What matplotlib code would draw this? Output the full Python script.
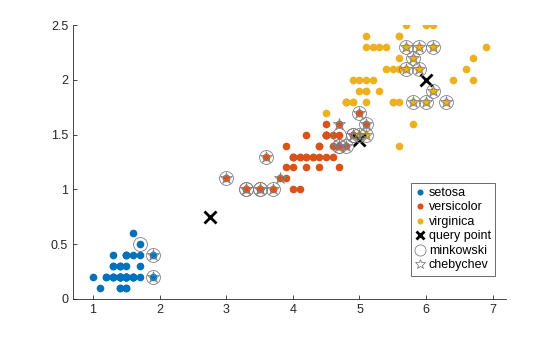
import numpy as np
import matplotlib.pyplot as plt

plt.rcParams['font.family'] = ['Liberation Sans', 'DejaVu Sans']

# Fisher iris: petal length / petal width per species
setosa_len = [1.4, 1.4, 1.3, 1.5, 1.4, 1.7, 1.4, 1.5, 1.4, 1.5, 1.5, 1.6, 1.4, 1.1, 1.2,
              1.5, 1.3, 1.4, 1.7, 1.5, 1.7, 1.5, 1.0, 1.7, 1.9, 1.6, 1.6, 1.5, 1.4, 1.6,
              1.6, 1.5, 1.5, 1.4, 1.5, 1.2, 1.3, 1.4, 1.3, 1.5, 1.3, 1.3, 1.3, 1.6, 1.9,
              1.4, 1.6, 1.4, 1.5, 1.4]
setosa_wid = [0.2, 0.2, 0.2, 0.2, 0.2, 0.4, 0.3, 0.2, 0.2, 0.1, 0.2, 0.2, 0.1, 0.1, 0.2,
              0.4, 0.4, 0.3, 0.3, 0.3, 0.2, 0.4, 0.2, 0.5, 0.2, 0.2, 0.4, 0.2, 0.2, 0.2,
              0.2, 0.4, 0.1, 0.2, 0.2, 0.2, 0.2, 0.1, 0.2, 0.2, 0.3, 0.3, 0.2, 0.6, 0.4,
              0.3, 0.2, 0.2, 0.2, 0.2]
versicolor_len = [4.7, 4.5, 4.9, 4.0, 4.6, 4.5, 4.7, 3.3, 4.6, 3.9, 3.5, 4.2, 4.0, 4.7, 3.6,
                  4.4, 4.5, 4.1, 4.5, 3.9, 4.8, 4.0, 4.9, 4.7, 4.3, 4.4, 4.8, 5.0, 4.5, 3.5,
                  3.8, 3.7, 3.9, 5.1, 4.5, 4.5, 4.7, 4.4, 4.1, 4.0, 4.4, 4.6, 4.0, 3.3, 4.2,
                  4.2, 4.2, 4.3, 3.0, 4.1]
versicolor_wid = [1.4, 1.5, 1.5, 1.3, 1.5, 1.3, 1.6, 1.0, 1.3, 1.4, 1.0, 1.5, 1.0, 1.4, 1.3,
                  1.4, 1.5, 1.0, 1.5, 1.1, 1.8, 1.3, 1.5, 1.2, 1.3, 1.4, 1.4, 1.7, 1.5, 1.0,
                  1.1, 1.0, 1.2, 1.6, 1.5, 1.6, 1.5, 1.3, 1.3, 1.3, 1.2, 1.4, 1.2, 1.0, 1.3,
                  1.2, 1.3, 1.3, 1.1, 1.3]
virginica_len = [6.0, 5.1, 5.9, 5.6, 5.8, 6.6, 4.5, 6.3, 5.8, 6.1, 5.1, 5.3, 5.5, 5.0, 5.1,
                 5.3, 5.5, 6.7, 6.9, 5.0, 5.7, 4.9, 6.7, 4.9, 5.7, 6.0, 4.8, 4.9, 5.6, 5.8,
                 6.1, 6.4, 5.6, 5.1, 5.6, 6.1, 5.6, 5.5, 4.8, 5.4, 5.6, 5.1, 5.1, 5.9, 5.7,
                 5.2, 5.0, 5.2, 5.4, 5.1]
virginica_wid = [2.5, 1.9, 2.1, 1.8, 2.2, 2.1, 1.7, 1.8, 1.8, 2.5, 2.0, 1.9, 2.1, 2.0, 2.4,
                 2.3, 1.8, 2.2, 2.3, 1.5, 2.3, 2.0, 2.0, 1.8, 2.1, 1.8, 1.8, 1.8, 2.1, 1.6,
                 1.9, 2.0, 2.2, 1.5, 1.4, 2.3, 2.4, 1.8, 1.8, 2.1, 2.4, 2.3, 1.9, 2.3, 2.5,
                 2.3, 1.9, 2.0, 2.3, 1.8]

species = ['setosa', 'versicolor', 'virginica']
colors = ['#0072BD', '#D95319', '#EDB120']

query_len = [5.0, 6.0, 2.75]
query_wid = [1.45, 2.0, 0.75]
k = 10

x = np.column_stack([setosa_len + versicolor_len + virginica_len,
                     setosa_wid + versicolor_wid + virginica_wid])
q = np.column_stack([query_len, query_wid])


def knn(dist):
    idx = []
    for p in q:
        d = dist(np.abs(x - p))
        idx.extend(np.argsort(d, kind='stable')[:k])
    return np.array(idx)


idx_mk = knn(lambda a: (a ** 5).sum(axis=1) ** 0.2)
idx_cb = knn(lambda a: a.max(axis=1))

fig = plt.figure(figsize=(5.6, 3.37), dpi=100)
ax = fig.add_axes([0.1304, 0.1128, 0.7732, 0.8130])

groups = [(setosa_len, setosa_wid), (versicolor_len, versicolor_wid),
          (virginica_len, virginica_wid)]
for (gx, gy), name, c in zip(groups, species, colors):
    ax.plot(gx, gy, 'o', ms=5.5, color=c, mec='none', label=name, ls='none')

ax.plot(query_len, query_wid, 'x', color='k', ms=8, mew=2, ls='none',
        label='query point')
ax.plot(x[idx_mk, 0], x[idx_mk, 1], 'o', ms=10, mfc='none', mec='#808080',
        mew=0.6, ls='none', label='minkowski')
ax.plot(x[idx_cb, 0], x[idx_cb, 1], '*', ms=9, mfc='none', mec='#808080',
        mew=0.6, ls='none', label='chebychev')

ax.set_xlim(0.7, 7.2)
ax.set_ylim(0, 2.5)
ax.set_xticks(range(1, 8))
ax.set_yticks([0, 0.5, 1, 1.5, 2, 2.5])
ax.set_yticklabels(['0', '0.5', '1', '1.5', '2', '2.5'])
for s in ['top', 'right']:
    ax.spines[s].set_visible(False)
for s in ['left', 'bottom']:
    ax.spines[s].set_color('#262626')
    ax.spines[s].set_linewidth(0.6)
ax.tick_params(direction='in', length=3, width=0.6, colors='#262626',
               labelsize=9)

leg = ax.legend(loc='upper left', bbox_to_anchor=(0.78, 0.425), fontsize=9,
                frameon=True, fancybox=False, edgecolor='#262626',
                handlelength=0.8, handletextpad=0.3, borderpad=0.35,
                labelspacing=0.2, borderaxespad=0, markerscale=0.8)
leg.get_frame().set_linewidth(0.6)

fig.savefig('out.png')
